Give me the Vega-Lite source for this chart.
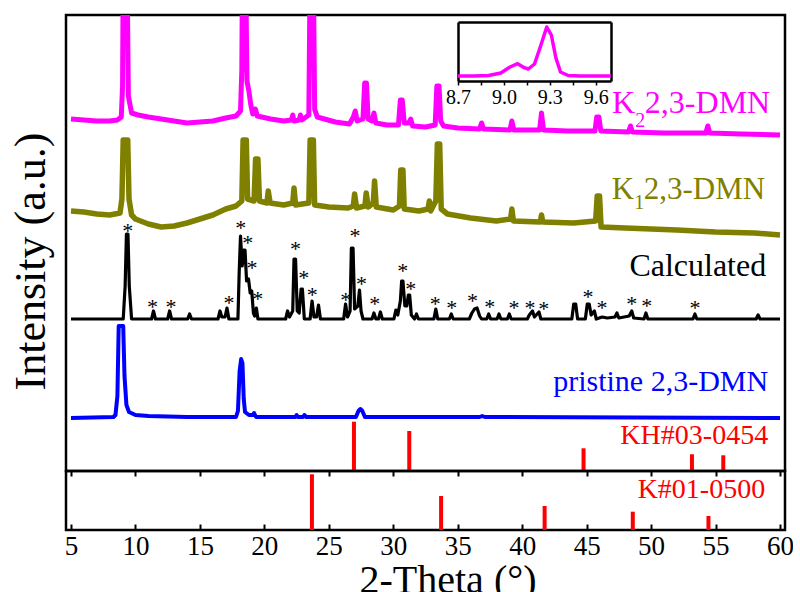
{
"$schema":"https://vega.github.io/schema/vega-lite/v6.json",
"background":"white",
"padding":{"left":7,"top":13,"right":-2,"bottom":-7},
"spacing":0,
"bounds":"flush",
"config":{"view":{"stroke":"black","strokeWidth":2.5},"font":"Liberation Serif, Times New Roman, Tinos, DejaVu Serif, serif"},
"datasets":{
"k2":[{"x":5,"y":352},{"x":6,"y":351},{"x":7,"y":350},{"x":8,"y":350},{"x":8.6,"y":351},{"x":8.9,"y":354},{"x":9.0,"y":385},{"x":9.05,"y":500},{"x":9.35,"y":500},{"x":9.45,"y":375},{"x":9.7,"y":358},{"x":10.2,"y":356},{"x":11,"y":354},{"x":12,"y":352},{"x":13,"y":350},{"x":14,"y":348},{"x":15,"y":349},{"x":16,"y":350},{"x":17,"y":353},{"x":17.8,"y":355},{"x":18.15,"y":360},{"x":18.25,"y":400},{"x":18.3,"y":500},{"x":18.55,"y":500},{"x":18.65,"y":390},{"x":18.8,"y":380},{"x":18.95,"y":366},{"x":19.1,"y":357},{"x":19.3,"y":362},{"x":19.45,"y":355},{"x":20.5,"y":352},{"x":21.5,"y":350},{"x":22.1,"y":351},{"x":22.2,"y":356},{"x":22.3,"y":350},{"x":22.7,"y":351},{"x":22.8,"y":356},{"x":22.9,"y":351},{"x":23.45,"y":356},{"x":23.55,"y":500},{"x":23.8,"y":500},{"x":23.9,"y":362},{"x":24.1,"y":354},{"x":25.5,"y":349},{"x":26.6,"y":347},{"x":26.9,"y":354},{"x":27.05,"y":360},{"x":27.2,"y":350},{"x":27.65,"y":352},{"x":27.78,"y":388},{"x":27.92,"y":388},{"x":28.05,"y":352},{"x":28.35,"y":350},{"x":28.5,"y":358},{"x":28.65,"y":348},{"x":29.5,"y":346},{"x":30.4,"y":346},{"x":30.55,"y":371},{"x":30.7,"y":371},{"x":30.85,"y":348},{"x":31.2,"y":348},{"x":31.35,"y":352},{"x":31.5,"y":345},{"x":32.5,"y":344},{"x":33.25,"y":346},{"x":33.38,"y":385},{"x":33.55,"y":385},{"x":33.68,"y":350},{"x":33.9,"y":345},{"x":35,"y":343},{"x":36.7,"y":342},{"x":36.85,"y":348},{"x":37.0,"y":342},{"x":39.05,"y":341},{"x":39.2,"y":350},{"x":39.35,"y":341},{"x":41.35,"y":341},{"x":41.5,"y":358},{"x":41.65,"y":341},{"x":43.5,"y":340},{"x":45.65,"y":340},{"x":45.78,"y":354},{"x":45.95,"y":354},{"x":46.1,"y":340},{"x":48.25,"y":339},{"x":48.4,"y":345},{"x":48.55,"y":339},{"x":51,"y":338},{"x":54.25,"y":338},{"x":54.4,"y":345},{"x":54.55,"y":338},{"x":57,"y":337},{"x":60,"y":336}],
"k1":[{"x":5,"y":260},{"x":6,"y":259},{"x":7,"y":257},{"x":8,"y":256},{"x":8.8,"y":258},{"x":8.95,"y":272},{"x":9.05,"y":331},{"x":9.4,"y":331},{"x":9.5,"y":272},{"x":9.7,"y":256},{"x":10,"y":252},{"x":11,"y":247},{"x":12,"y":244},{"x":13,"y":245},{"x":14,"y":248},{"x":15,"y":252},{"x":16,"y":256},{"x":17,"y":262},{"x":17.8,"y":265},{"x":18.25,"y":270},{"x":18.35,"y":331},{"x":18.6,"y":331},{"x":18.7,"y":272},{"x":19.2,"y":270},{"x":19.32,"y":312},{"x":19.5,"y":312},{"x":19.62,"y":270},{"x":20.2,"y":268},{"x":20.3,"y":280},{"x":20.45,"y":268},{"x":21.5,"y":266},{"x":22.2,"y":268},{"x":22.3,"y":283},{"x":22.42,"y":266},{"x":23.45,"y":268},{"x":23.55,"y":331},{"x":23.8,"y":331},{"x":23.9,"y":266},{"x":25,"y":264},{"x":26.5,"y":263},{"x":26.9,"y":265},{"x":27.0,"y":277},{"x":27.15,"y":263},{"x":27.8,"y":265},{"x":27.9,"y":278},{"x":28.05,"y":264},{"x":28.45,"y":268},{"x":28.55,"y":290},{"x":28.68,"y":264},{"x":30,"y":261},{"x":30.48,"y":265},{"x":30.58,"y":301},{"x":30.75,"y":301},{"x":30.85,"y":262},{"x":32,"y":260},{"x":32.7,"y":262},{"x":32.8,"y":270},{"x":32.9,"y":260},{"x":33.3,"y":270},{"x":33.42,"y":327},{"x":33.6,"y":327},{"x":33.72,"y":262},{"x":34.2,"y":257},{"x":36,"y":253},{"x":38,"y":250},{"x":39.1,"y":252},{"x":39.2,"y":262},{"x":39.32,"y":250},{"x":41.4,"y":249},{"x":41.5,"y":256},{"x":41.6,"y":249},{"x":44,"y":248},{"x":45.7,"y":250},{"x":45.82,"y":275},{"x":46.0,"y":275},{"x":46.12,"y":244},{"x":48,"y":243},{"x":50,"y":242},{"x":52,"y":241},{"x":55,"y":239},{"x":58,"y":238},{"x":60,"y":236}],
"calc":[{"x":5,"y":152},{"x":9.05,"y":152},{"x":9.2,"y":185},{"x":9.3,"y":237},{"x":9.42,"y":237},{"x":9.52,"y":185},{"x":9.7,"y":152},{"x":11.25,"y":152},{"x":11.4,"y":160},{"x":11.55,"y":152},{"x":12.5,"y":152},{"x":12.65,"y":160},{"x":12.8,"y":152},{"x":14.05,"y":152},{"x":14.2,"y":157},{"x":14.35,"y":152},{"x":16.4,"y":152},{"x":16.56,"y":160},{"x":16.7,"y":154},{"x":16.95,"y":154},{"x":17.1,"y":163},{"x":17.25,"y":152},{"x":17.95,"y":152},{"x":18.05,"y":200},{"x":18.15,"y":235},{"x":18.28,"y":205},{"x":18.4,"y":221},{"x":18.5,"y":221},{"x":18.62,"y":190},{"x":18.77,"y":192},{"x":18.9,"y":178},{"x":19.02,"y":180},{"x":19.15,"y":158},{"x":19.25,"y":155},{"x":19.38,"y":163},{"x":19.5,"y":152},{"x":21.65,"y":152},{"x":21.8,"y":160},{"x":21.95,"y":154},{"x":22.2,"y":160},{"x":22.3,"y":212},{"x":22.42,"y":212},{"x":22.55,"y":160},{"x":22.7,"y":158},{"x":22.85,"y":182},{"x":22.95,"y":182},{"x":23.1,"y":152},{"x":23.55,"y":152},{"x":23.7,"y":170},{"x":23.85,"y":154},{"x":24.05,"y":154},{"x":24.2,"y":166},{"x":24.35,"y":152},{"x":26.15,"y":152},{"x":26.3,"y":167},{"x":26.45,"y":154},{"x":26.65,"y":160},{"x":26.75,"y":223},{"x":26.88,"y":223},{"x":27.0,"y":162},{"x":27.25,"y":165},{"x":27.38,"y":181},{"x":27.5,"y":160},{"x":27.65,"y":152},{"x":28.35,"y":152},{"x":28.5,"y":158},{"x":28.65,"y":152},{"x":28.85,"y":152},{"x":29.0,"y":159},{"x":29.15,"y":152},{"x":30.05,"y":152},{"x":30.2,"y":161},{"x":30.35,"y":156},{"x":30.55,"y":170},{"x":30.65,"y":190},{"x":30.75,"y":190},{"x":30.9,"y":165},{"x":31.05,"y":165},{"x":31.17,"y":176},{"x":31.27,"y":176},{"x":31.4,"y":156},{"x":31.65,"y":152},{"x":31.8,"y":157},{"x":31.95,"y":152},{"x":33.15,"y":152},{"x":33.3,"y":162},{"x":33.45,"y":152},{"x":34.35,"y":152},{"x":34.5,"y":157},{"x":34.65,"y":152},{"x":35.9,"y":152},{"x":36.1,"y":158},{"x":36.3,"y":162},{"x":36.5,"y":163},{"x":36.7,"y":155},{"x":36.85,"y":152},{"x":37.25,"y":152},{"x":37.4,"y":157},{"x":37.55,"y":152},{"x":38.05,"y":152},{"x":38.2,"y":157},{"x":38.35,"y":152},{"x":38.85,"y":152},{"x":39.0,"y":157},{"x":39.15,"y":152},{"x":40.4,"y":152},{"x":40.55,"y":156},{"x":40.8,"y":160},{"x":40.95,"y":154},{"x":41.3,"y":159},{"x":41.45,"y":152},{"x":43.85,"y":152},{"x":44.0,"y":167},{"x":44.15,"y":167},{"x":44.3,"y":152},{"x":44.9,"y":152},{"x":45.05,"y":167},{"x":45.2,"y":167},{"x":45.35,"y":156},{"x":45.6,"y":160},{"x":45.75,"y":152},{"x":46.2,"y":154},{"x":46.6,"y":153},{"x":47.2,"y":154},{"x":47.35,"y":158},{"x":47.5,"y":153},{"x":48.3,"y":155},{"x":48.5,"y":160},{"x":48.65,"y":153},{"x":49.45,"y":152},{"x":49.6,"y":158},{"x":49.75,"y":152},{"x":53.25,"y":152},{"x":53.4,"y":157},{"x":53.55,"y":152},{"x":58.15,"y":152},{"x":58.3,"y":156},{"x":58.45,"y":152},{"x":60,"y":152}],
"pristine":[{"x":5,"y":53},{"x":8.3,"y":54},{"x":8.45,"y":56},{"x":8.6,"y":75},{"x":8.7,"y":145},{"x":9.05,"y":145},{"x":9.15,"y":95},{"x":9.3,"y":66},{"x":9.5,"y":59},{"x":10,"y":56},{"x":11,"y":55},{"x":14,"y":54},{"x":17.8,"y":54},{"x":17.95,"y":60},{"x":18.08,"y":100},{"x":18.2,"y":112},{"x":18.3,"y":108},{"x":18.4,"y":72},{"x":18.5,"y":59},{"x":18.8,"y":56},{"x":19.1,"y":56},{"x":19.2,"y":58},{"x":19.35,"y":54},{"x":22.4,"y":54},{"x":22.5,"y":56},{"x":22.6,"y":54},{"x":23,"y":54},{"x":23.1,"y":56},{"x":23.25,"y":54},{"x":27.1,"y":54},{"x":27.3,"y":60},{"x":27.45,"y":62},{"x":27.6,"y":60},{"x":27.8,"y":54},{"x":36.7,"y":54},{"x":36.9,"y":55},{"x":37.1,"y":54},{"x":60,"y":53}],
"stars":[{"x":9.41,"y":243.3},{"x":11.33,"y":167.3},{"x":12.75,"y":166.7},{"x":17.26,"y":170.7},{"x":18.16,"y":246},{"x":18.72,"y":230.7},{"x":19.05,"y":206},{"x":19.48,"y":175},{"x":22.42,"y":225},{"x":23.05,"y":196},{"x":23.72,"y":179.3},{"x":26.32,"y":174},{"x":27.03,"y":238.3},{"x":27.54,"y":190},{"x":28.56,"y":170},{"x":30.73,"y":202.7},{"x":31.35,"y":185},{"x":33.25,"y":170},{"x":34.53,"y":166},{"x":36.14,"y":173.3},{"x":37.49,"y":166.7},{"x":39.37,"y":166},{"x":40.6,"y":166},{"x":41.67,"y":165},{"x":45.1,"y":176.7},{"x":46.2,"y":165.7},{"x":48.5,"y":170},{"x":49.66,"y":168.3},{"x":53.4,"y":165.7}],
"kh":[{"x":26.95,"h":49.3},{"x":31.24,"h":40},{"x":44.76,"h":22.7},{"x":53.17,"h":16.7},{"x":55.6,"h":15.7}],
"k":[{"x":23.69,"h":55.7},{"x":33.71,"h":34},{"x":41.74,"h":24},{"x":48.58,"h":18.3},{"x":54.45,"h":14}],
"inset":[{"x":8.7,"y":5},{"x":8.8,"y":5},{"x":8.9,"y":5.5},{"x":8.98,"y":8},{"x":9.04,"y":14},{"x":9.09,"y":17.3},{"x":9.13,"y":13.5},{"x":9.16,"y":12},{"x":9.2,"y":17},{"x":9.24,"y":35},{"x":9.28,"y":54},{"x":9.31,"y":46},{"x":9.34,"y":23},{"x":9.37,"y":9},{"x":9.42,"y":5.5},{"x":9.5,"y":5},{"x":9.7,"y":5}]
},
"vconcat":[
{
"width":719,"height":456,
"layer":[
{"layer":[
{"data":{"name":"k2"},"mark":{"type":"line","color":"#ff00ff","strokeWidth":5,"clip":true,"strokeJoin":"round"},
 "encoding":{"x":{"field":"x","type":"quantitative","scale":{"domain":[5,60],"nice":false},
   "axis":{"orient":"bottom","title":null,"values":[5,7.5,10,12.5,15,17.5,20,22.5,25,27.5,30,32.5,35,37.5,40,42.5,45,47.5,50,52.5,55,57.5,60],"labels":false,"tickSize":5,"tickWidth":2,"tickColor":"black","domain":false,"grid":false}},
  "y":{"field":"y","type":"quantitative","scale":{"domain":[0,456],"nice":false},
   "axis":{"title":"Intensity (a.u.)","labels":false,"ticks":false,"domain":false,"grid":false,"titleFontSize":44,"titleFontWeight":"normal","titleColor":"black","titleX":-22,"titleY":246,"titleBaseline":"alphabetic","titleAlign":"center","titleAngle":270}}}},
{"data":{"name":"k1"},"mark":{"type":"line","color":"#808000","strokeWidth":5.5,"clip":true,"strokeJoin":"round"},
 "encoding":{"x":{"field":"x","type":"quantitative"},"y":{"field":"y","type":"quantitative"}}},
{"data":{"name":"calc"},"mark":{"type":"line","color":"#000000","strokeWidth":3.2,"clip":true,"strokeJoin":"round"},
 "encoding":{"x":{"field":"x","type":"quantitative"},"y":{"field":"y","type":"quantitative"}}},
{"data":{"name":"pristine"},"mark":{"type":"line","color":"#0000ff","strokeWidth":4,"clip":true,"strokeJoin":"round"},
 "encoding":{"x":{"field":"x","type":"quantitative"},"y":{"field":"y","type":"quantitative"}}},
{"data":{"name":"kh"},"mark":{"type":"bar","color":"#ff0000","size":4},
 "encoding":{"x":{"field":"x","type":"quantitative"},"y":{"field":"h","type":"quantitative"}}},
{"data":{"name":"stars"},"mark":{"type":"text","text":"*","fontSize":22,"color":"#000000","baseline":"alphabetic","dy":10},
 "encoding":{"x":{"field":"x","type":"quantitative"},"y":{"field":"y","type":"quantitative"}}},
{"data":{"values":[{}]},"mark":{"type":"text","text":"2,3-DMN","align":"right","baseline":"alphabetic","fontSize":32,"color":"#ff00ff"},
 "encoding":{"x":{"datum":59.24,"type":"quantitative"},"y":{"datum":358,"type":"quantitative"}}},
{"data":{"values":[{}]},"mark":{"type":"text","text":"2","align":"right","baseline":"alphabetic","fontSize":20,"color":"#ff00ff","dx":-125},
 "encoding":{"x":{"datum":59.24,"type":"quantitative"},"y":{"datum":344,"type":"quantitative"}}},
{"data":{"values":[{}]},"mark":{"type":"text","text":"K","align":"right","baseline":"alphabetic","fontSize":32,"color":"#ff00ff","dx":-135},
 "encoding":{"x":{"datum":59.24,"type":"quantitative"},"y":{"datum":358,"type":"quantitative"}}},
{"data":{"values":[{}]},"mark":{"type":"text","text":"2,3-DMN","align":"right","baseline":"alphabetic","fontSize":31,"color":"#808000"},
 "encoding":{"x":{"datum":58.85,"type":"quantitative"},"y":{"datum":272,"type":"quantitative"}}},
{"data":{"values":[{}]},"mark":{"type":"text","text":"1","align":"right","baseline":"alphabetic","fontSize":20,"color":"#808000","dx":-121},
 "encoding":{"x":{"datum":58.85,"type":"quantitative"},"y":{"datum":262,"type":"quantitative"}}},
{"data":{"values":[{}]},"mark":{"type":"text","text":"K","align":"right","baseline":"alphabetic","fontSize":31,"color":"#808000","dx":-131},
 "encoding":{"x":{"datum":58.85,"type":"quantitative"},"y":{"datum":272,"type":"quantitative"}}},
{"data":{"values":[{}]},"mark":{"type":"text","text":"Calculated","align":"right","baseline":"alphabetic","fontSize":32,"color":"#000000"},
 "encoding":{"x":{"datum":58.93,"type":"quantitative"},"y":{"datum":195,"type":"quantitative"}}},
{"data":{"values":[{}]},"mark":{"type":"text","text":"pristine 2,3-DMN","align":"right","baseline":"alphabetic","fontSize":30,"color":"#0000ff"},
 "encoding":{"x":{"datum":59.08,"type":"quantitative"},"y":{"datum":80,"type":"quantitative"}}},
{"data":{"values":[{}]},"mark":{"type":"text","text":"KH#03-0454","align":"right","baseline":"alphabetic","fontSize":28,"color":"#ff0000"},
 "encoding":{"x":{"datum":59.08,"type":"quantitative"},"y":{"datum":27,"type":"quantitative"}}}
]},
{"data":{"name":"inset"},
 "layer":[
{"mark":{"type":"line","color":"#ff00ff","strokeWidth":3.5,"strokeJoin":"round"},
 "encoding":{"x":{"field":"x","type":"quantitative","scale":{"domain":[8.7,9.7],"range":[392,545],"nice":false,"zero":false},
   "axis":{"orient":"bottom","offset":-390,"title":null,"values":[8.7,8.85,9.0,9.15,9.3,9.45,9.6],"labelExpr":"(round(datum.value*100) % 30 == 0) ? format(datum.value, '.1f') : ''","labelFontSize":20,"labelColor":"black","labelFlush":false,"labelOverlap":false,"tickSize":4,"tickWidth":1.5,"tickColor":"black","domain":true,"domainColor":"black","domainWidth":2.5,"grid":false,"labelPadding":2}},
  "y":{"field":"y","type":"quantitative","scale":{"domain":[0,59],"range":[66,7],"nice":false},
   "axis":{"orient":"left","offset":-392,"title":null,"labels":false,"ticks":false,"domain":true,"domainColor":"black","domainWidth":2.5,"grid":false}}}},
{"mark":{"type":"line","strokeOpacity":0},
 "encoding":{"x":{"field":"x","type":"quantitative",
   "axis":{"orient":"top","offset":-7,"title":null,"labels":false,"ticks":false,"domain":true,"domainColor":"black","domainWidth":2.5,"grid":false}},
  "y":{"field":"y","type":"quantitative",
   "axis":{"orient":"right","offset":-174,"title":null,"labels":false,"ticks":false,"domain":true,"domainColor":"black","domainWidth":2.5,"grid":false}}}}
 ],
 "resolve":{"axis":{"x":"independent","y":"independent"}}
}
],
"resolve":{"scale":{"x":"independent","y":"independent"},"axis":{"x":"independent","y":"independent"}}
},
{
"width":719,"height":59,
"layer":[
{"data":{"name":"k"},"mark":{"type":"bar","color":"#ff0000","size":4},
 "encoding":{"x":{"field":"x","type":"quantitative","scale":{"domain":[5,60],"nice":false},
   "axis":{"orient":"bottom","title":"2-Theta (°)","values":[5,7.5,10,12.5,15,17.5,20,22.5,25,27.5,30,32.5,35,37.5,40,42.5,45,47.5,50,52.5,55,57.5,60],"labelExpr":"datum.value % 5 == 0 ? datum.label : ''","labelFontSize":27,"labelColor":"black","labelFlush":false,"labelOverlap":false,"labelPadding":9,"tickSize":-6,"tickWidth":2,"tickColor":"black","domain":false,"grid":false,"titleFontSize":40,"titleFontWeight":"normal","titleColor":"black","titleX":381.5,"titleY":62,"titleBaseline":"alphabetic","titleAlign":"center"}},
  "y":{"field":"h","type":"quantitative","scale":{"domain":[0,59],"nice":false},"axis":null}}},
{"data":{"values":[{}]},"mark":{"type":"text","text":"K#01-0500","align":"right","baseline":"alphabetic","fontSize":28,"color":"#ff0000"},
 "encoding":{"x":{"datum":58.85,"type":"quantitative"},"y":{"datum":32,"type":"quantitative"}}}
]
}
]
}
